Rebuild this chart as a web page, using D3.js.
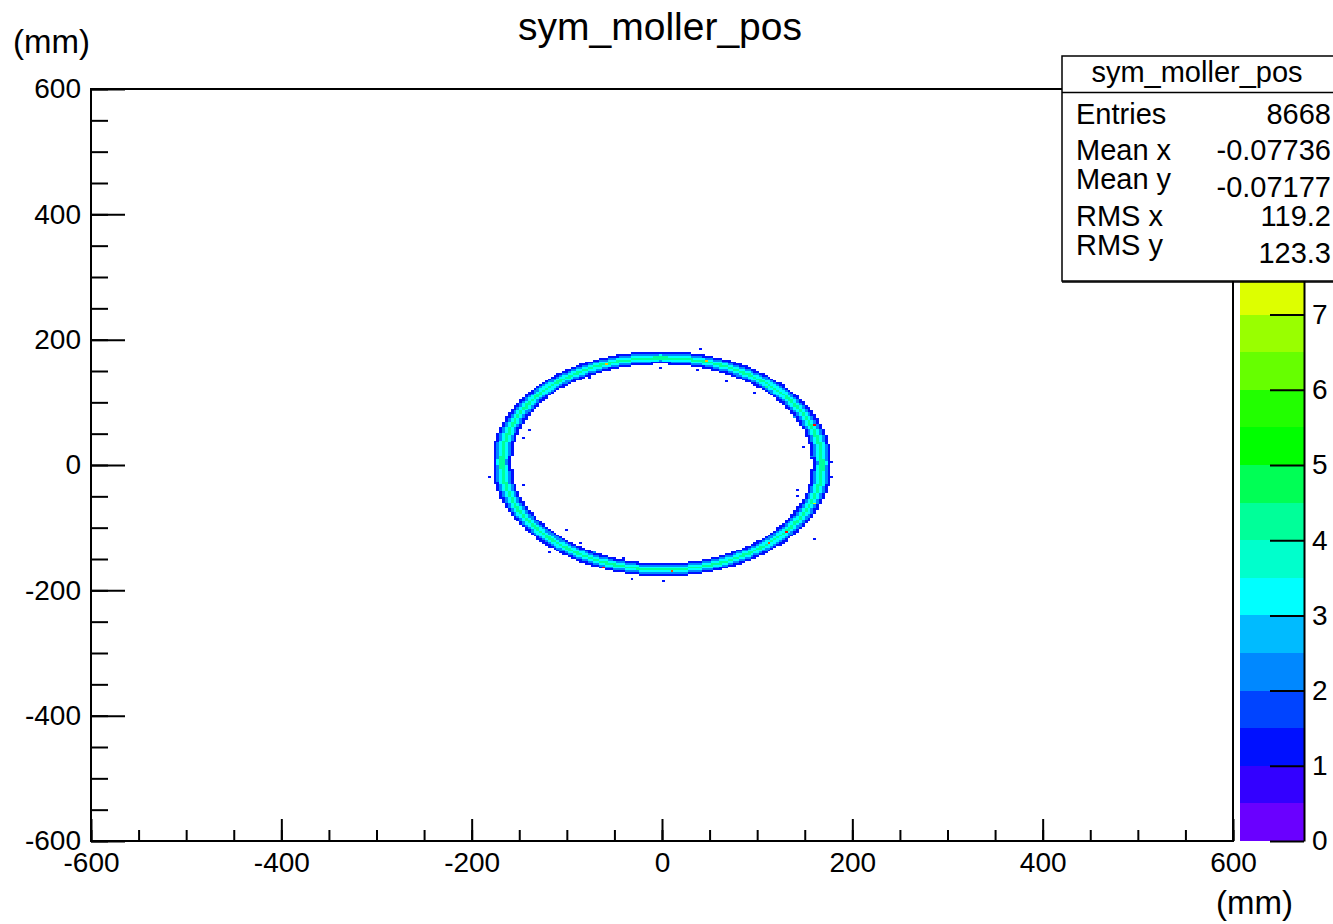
<!DOCTYPE html>
<html>
<head>
<meta charset="utf-8">
<script src="https://cdn.jsdelivr.net/npm/d3@7"></script>
<style>
  body { margin: 0; background: #fff; }
  text { font-family: "Liberation Sans", Arial, Helvetica, sans-serif; fill: #000; }
</style>
</head>
<body>
<svg id="chart" width="1333" height="924"></svg>
<script>
// ----- DATA -----
const histTitle = "sym_moller_pos";
const axisUnit = "(mm)";
const xTicks = [-600, -400, -200, 0, 200, 400, 600];
const yTicks = [-600, -400, -200, 0, 200, 400, 600];
const zTicks = [0, 1, 2, 3, 4, 5, 6, 7]; // 8..10 sit behind the stats box
const zMax = 10;
const paletteColors = [
  "#6a00ff", "#3300ff", "#0010ff", "#0044ff", "#0088ff",
  "#00bbff", "#00ffff", "#00ffcc", "#00ff99", "#00ff55",
  "#00ff00", "#22ff00", "#66ff00", "#99ff00", "#ddff00",
  "#ffee00", "#ffbb00", "#ff8800", "#ff4400", "#ff0000"
];
const statsLabels = ["Entries", "Mean x", "Mean y", "RMS x", "RMS y"];
const statsValues = ["8668", "-0.07736", "-0.07177", "119.2", "123.3"];

// centre line of the ring: angle (deg) -> radius (mm)
const ringAngles = [0, 45, 90, 135, 180, 225, 270, 315, 360];
const ringRadii = [168, 170, 171, 172, 168, 166, 167, 168, 168];
// entries per 3 mm bin across the ring, by distance from the centre line (mm)
const bandOffsets = [-12, -9, -6, -3, 0, 3, 6, 9, 12];
const bandCounts = [0, 0.9, 1.9, 3.1, 4.0, 3.1, 1.9, 0.9, 0];
// single stray entries off the ring
const strayX = [39, -139, -147, -145, 147, 156, 142, 142, 66, 36, -2, 178, 177, -102, -70, -32, 1, 161, -181, -177, -118, -86, -41, 110, 138, 98, -86, -76];
const strayY = [185, 56, 44, -33, 29, 13, -41, -51, 133, 150, 153, 3, -19, -105, -139, -182, -185, -120, -19, 37, -140, -126, -150, 125, 75, 114, 136, 139];
// hottest bins on the ring
const hotX = [160, -62, 11, 111, 130, 46, -58, 159];
const hotY = [65, -164, -171, -126, -108, 166, 161, -62];
const hotN = [10, 10, 9, 9, 10, 8, 8, 7];

// ----- LAYOUT -----
const frame = { left: 91, right: 1233, top: 89, bottom: 841 };
const pal = { left: 1240, right: 1304 };
const binW = 3, nBins = 400;
const svg = d3.select("#chart");

const xScale = d3.scaleLinear().domain([-600, 600]).range([frame.left, frame.right]);
const yScale = d3.scaleLinear().domain([-600, 600]).range([frame.bottom, frame.top]);
const zScale = d3.scaleLinear().domain([0, zMax]).range([frame.bottom, frame.top]);
const color = d3.scaleQuantize().domain([0, zMax]).range(paletteColors);
const radiusAt = d3.scaleLinear().domain(ringAngles).range(ringRadii);
const bandAt = d3.scaleLinear().domain(bandOffsets).range(bandCounts).clamp(true);

// ----- BINS -----
const cells = new Map();
const binOf = v => Math.floor((v + 600) / binW);
for (let i = 0; i < nBins; i++) {
  const cx = -600 + (i + 0.5) * binW;
  for (let j = 0; j < nBins; j++) {
    const cy = -600 + (j + 0.5) * binW;
    const r = Math.hypot(cx, cy);
    if (r < 140 || r > 200) continue;
    let a = Math.atan2(cy, cx) * 180 / Math.PI;
    if (a < 0) a += 360;
    const n = Math.round(bandAt(r - radiusAt(a)));
    if (n > 0) cells.set(i + "," + j, { i, j, n });
  }
}
strayX.forEach((x, k) => {
  const i = binOf(x), j = binOf(strayY[k]), key = i + "," + j;
  if (cells.has(key)) cells.get(key).n += 1;
  else cells.set(key, { i, j, n: 1 });
});
hotX.forEach((x, k) => {
  const i = binOf(x), j = binOf(hotY[k]);
  cells.set(i + "," + j, { i, j, n: hotN[k] });
});

svg.append("g")
  .attr("shape-rendering", "crispEdges")
  .selectAll("rect")
  .data(Array.from(cells.values()))
  .join("rect")
  .attr("x", d => xScale(-600 + d.i * binW))
  .attr("y", d => yScale(-600 + (d.j + 1) * binW))
  .attr("width", d => xScale(-600 + (d.i + 1) * binW) - xScale(-600 + d.i * binW))
  .attr("height", d => yScale(-600 + d.j * binW) - yScale(-600 + (d.j + 1) * binW))
  .attr("fill", d => color(d.n));

// ----- AXES -----
function styleAxis(g, size) {
  g.select(".domain").remove();
  g.selectAll(".tick line").attr("stroke", "#000").attr("stroke-width", 2);
  g.attr("font-size", size).attr("font-family", null);
}

svg.append("g")
  .attr("transform", `translate(0,${frame.bottom})`)
  .call(d3.axisBottom(xScale).tickValues(d3.range(-600, 601, 50)).tickSizeInner(-11).tickSizeOuter(0).tickFormat(""))
  .call(g => styleAxis(g, 28));
svg.append("g")
  .attr("transform", `translate(0,${frame.bottom})`)
  .call(d3.axisBottom(xScale).tickValues(xTicks).tickSizeInner(-22).tickSizeOuter(0).tickPadding(11).tickFormat(d => String(d)))
  .call(g => styleAxis(g, 28));

svg.append("g")
  .attr("transform", `translate(${frame.left},0)`)
  .call(d3.axisLeft(yScale).tickValues(d3.range(-600, 601, 50)).tickSizeInner(-17).tickSizeOuter(0).tickFormat(""))
  .call(g => styleAxis(g, 28));
svg.append("g")
  .attr("transform", `translate(${frame.left},0)`)
  .call(d3.axisLeft(yScale).tickValues(yTicks).tickSizeInner(-34).tickSizeOuter(0).tickPadding(10).tickFormat(d => String(d)))
  .call(g => styleAxis(g, 28));

// frame
svg.append("rect")
  .attr("x", frame.left).attr("y", frame.top)
  .attr("width", frame.right - frame.left).attr("height", frame.bottom - frame.top)
  .attr("fill", "none").attr("stroke", "#000").attr("stroke-width", 2);

// ----- PALETTE -----
const step = zMax / paletteColors.length;
svg.append("g")
  .attr("shape-rendering", "crispEdges")
  .selectAll("rect")
  .data(paletteColors)
  .join("rect")
  .attr("x", pal.left)
  .attr("width", pal.right - pal.left)
  .attr("y", (c, k) => zScale((k + 1) * step))
  .attr("height", (c, k) => zScale(k * step) - zScale((k + 1) * step))
  .attr("fill", c => c);

const zAxisG = svg.append("g")
  .attr("transform", `translate(${pal.right},0)`)
  .call(d3.axisRight(zScale).tickValues(zTicks).tickSizeInner(-34).tickSizeOuter(0).tickPadding(8).tickFormat(d => String(d)));
zAxisG.attr("font-size", 28).attr("font-family", null);
zAxisG.select(".domain").attr("stroke", "#000").attr("stroke-width", 2);
zAxisG.selectAll(".tick line").attr("stroke", "#000").attr("stroke-width", 2);

// ----- TITLES -----
svg.append("text")
  .attr("x", 660).attr("y", 40)
  .attr("text-anchor", "middle")
  .attr("font-size", 39)
  .text(histTitle);

svg.append("text")
  .attr("x", 90).attr("y", 53)
  .attr("text-anchor", "end")
  .attr("font-size", 33)
  .text(axisUnit);

svg.append("text")
  .attr("x", 1293).attr("y", 914)
  .attr("text-anchor", "end")
  .attr("font-size", 33)
  .text(axisUnit);

// ----- STATS BOX -----
const box = { left: 1062, top: 56, sep: 92.5, bottom: 281 };
const stats = svg.append("g");
stats.append("rect")
  .attr("x", box.left).attr("y", box.top)
  .attr("width", 1340 - box.left).attr("height", box.bottom - box.top)
  .attr("fill", "#fff").attr("stroke", "#000").attr("stroke-width", 1.5);
stats.append("line")
  .attr("x1", box.left).attr("x2", 1340)
  .attr("y1", box.bottom + 1).attr("y2", box.bottom + 1)
  .attr("stroke", "#000").attr("stroke-width", 1.5);
stats.append("line")
  .attr("x1", box.left).attr("x2", 1340)
  .attr("y1", box.sep).attr("y2", box.sep)
  .attr("stroke", "#000").attr("stroke-width", 1.5);
stats.append("text")
  .attr("x", 1197).attr("y", 82)
  .attr("text-anchor", "middle")
  .attr("font-size", 29)
  .text(histTitle);

const labelY = [124, 160, 189, 226, 255];
const valueY = [124, 160, 197, 226, 263];
stats.selectAll("text.lab")
  .data(statsLabels)
  .join("text")
  .attr("class", "lab")
  .attr("x", 1076)
  .attr("y", (d, k) => labelY[k])
  .attr("font-size", 29)
  .text(d => d);
stats.selectAll("text.val")
  .data(statsValues)
  .join("text")
  .attr("class", "val")
  .attr("x", 1331)
  .attr("y", (d, k) => valueY[k])
  .attr("text-anchor", "end")
  .attr("font-size", 29)
  .text(d => d);
</script>
</body>
</html>
